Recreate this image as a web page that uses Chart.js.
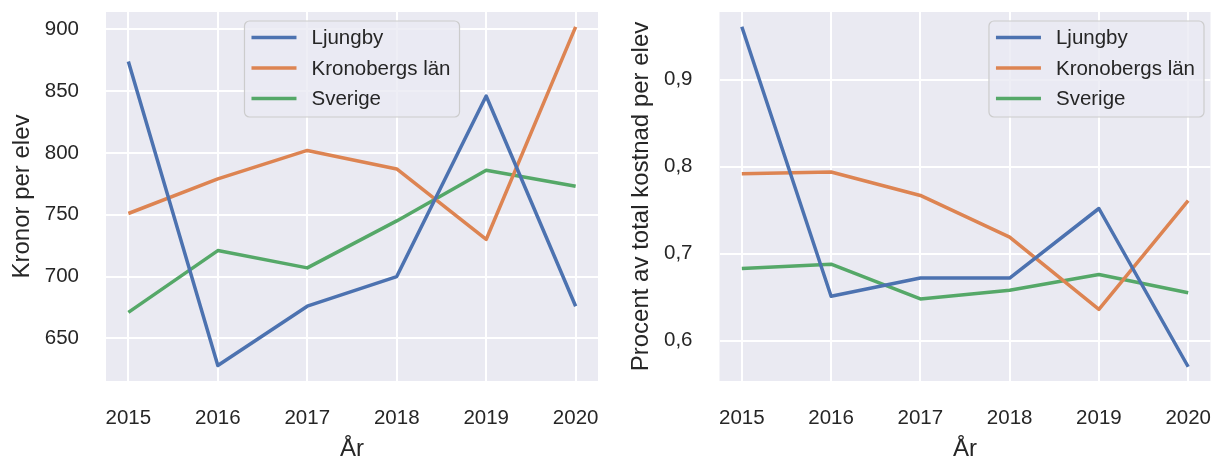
<!DOCTYPE html>
<html>
<head>
<meta charset="utf-8">
<script src="https://cdn.jsdelivr.net/npm/chart.js@4.4.1/dist/chart.umd.min.js"></script>
<style>
  body { margin: 0; background: #ffffff; }
  #wrap { position: relative; width: 1217px; height: 459px; }
  canvas { position: absolute; top: 0; }
</style>
</head>
<body>
<div id="wrap">
  <canvas id="kronorChart" width="608" height="459" style="left:0"></canvas>
  <canvas id="procentChart" width="609" height="459" style="left:608px"></canvas>
</div>
<script>
// Data
const years = [2015, 2016, 2017, 2018, 2019, 2020];
const seriesNames = ['Ljungby', 'Kronobergs län', 'Sverige'];

// Kronor per elev
const kronorLjungby = [874, 628, 676, 700, 846, 676];
const kronorKronoberg = [751, 779, 802, 787, 730, 902];
const kronorSverige = [671, 721, 707, 745, 786, 773];
const kronorTicks = [650, 700, 750, 800, 850, 900];

// Procent av total kostnad per elev
const procentLjungby = [0.961, 0.651, 0.672, 0.672, 0.752, 0.570];
const procentKronoberg = [0.792, 0.794, 0.767, 0.719, 0.636, 0.761];
const procentSverige = [0.683, 0.688, 0.648, 0.658, 0.676, 0.655];
const procentTicks = [0.6, 0.7, 0.8, 0.9];

// seaborn "deep" palette
const lineColors = ['#4c72b0', '#dd8452', '#55a868'];
const textColor = '#262626';
const fontFamily = '"Liberation Sans", Arial, sans-serif';

Chart.defaults.font.family = fontFamily;
Chart.defaults.color = textColor;

// Grey plot area like seaborn darkgrid
const plotBackground = {
    id: 'plotBackground',
    beforeDraw(chart) {
        const { ctx, chartArea: a } = chart;
        ctx.save();
        ctx.fillStyle = '#eaeaf2';
        ctx.fillRect(a.left, a.top, a.right - a.left, a.bottom - a.top);
        ctx.restore();
    }
};

// Legend drawn inside the plot area, with a framed box
function boxLegend(loc) {
    return {
        id: 'boxLegend',
        afterDraw(chart) {
            const { ctx, chartArea: a } = chart;
            const sets = chart.data.datasets;
            ctx.save();
            ctx.font = '20.5px ' + fontFamily;
            const textW = Math.max(...sets.map(d => ctx.measureText(d.label).width));
            const w = 67 + textW + 9;
            const h = 96;
            const left = loc === 'right' ? a.right - 6.5 - w : (a.left + a.right) / 2 - w / 2;
            const top = a.top + 9;

            ctx.beginPath();
            ctx.roundRect(left, top, w, h, 5);
            ctx.fillStyle = 'rgba(234, 234, 242, 0.8)';
            ctx.fill();
            ctx.strokeStyle = '#cccccc';
            ctx.lineWidth = 1.2;
            ctx.stroke();

            sets.forEach((d, i) => {
                const y = top + 16.5 + i * 30.5;
                ctx.beginPath();
                ctx.moveTo(left + 7, y);
                ctx.lineTo(left + 52, y);
                ctx.strokeStyle = d.borderColor;
                ctx.lineWidth = 3.5;
                ctx.stroke();
                ctx.fillStyle = textColor;
                ctx.textBaseline = 'middle';
                ctx.fillText(d.label, left + 67, y + 1);
            });
            ctx.restore();
        }
    };
}

function buildDatasets(seriesValues) {
    return seriesValues.map((vals, i) => ({
        label: seriesNames[i],
        data: years.map((yr, j) => ({ x: yr, y: vals[j] })),
        borderColor: lineColors[i],
        backgroundColor: lineColors[i],
        borderWidth: 3.5,
        borderJoinStyle: 'round',
        pointRadius: 0,
        tension: 0,
        fill: false
    }));
}

function makeChart(canvasId, cfg) {
    return new Chart(document.getElementById(canvasId), {
        type: 'line',
        data: { datasets: buildDatasets(cfg.series) },
        options: {
            responsive: false,
            animation: false,
            events: [],
            layout: { padding: { left: 0, right: cfg.padRight, top: 12, bottom: 0 } },
            plugins: {
                legend: { display: false },
                tooltip: { enabled: false }
            },
            scales: {
                x: {
                    type: 'linear',
                    min: 2014.75,
                    max: 2020.25,
                    afterBuildTicks: s => { s.ticks = years.map(v => ({ value: v })); },
                    afterFit: s => {
                        s.height = 78;
                        s.paddingLeft = 0;
                        s.paddingRight = 0;
                    },
                    grid: { color: '#ffffff', lineWidth: 2, drawTicks: false },
                    border: { display: false },
                    ticks: {
                        padding: 25,
                        maxRotation: 0,
                        autoSkip: false,
                        color: textColor,
                        font: { size: 20.5 },
                        callback: v => String(v)
                    },
                    title: {
                        display: true,
                        text: 'År',
                        color: textColor,
                        font: { size: 24, lineHeight: 0.8 },
                        padding: 0
                    }
                },
                y: {
                    min: cfg.yMin,
                    max: cfg.yMax,
                    afterBuildTicks: s => { s.ticks = cfg.ticks.map(v => ({ value: v })); },
                    afterFit: s => {
                        s.width = cfg.yWidth;
                        s.paddingTop = 0;
                        s.paddingBottom = 0;
                    },
                    grid: { color: '#ffffff', lineWidth: 2, drawTicks: false },
                    border: { display: false },
                    ticks: {
                        padding: 27,
                        color: textColor,
                        font: { size: 20.5 },
                        callback: cfg.format
                    },
                    title: {
                        display: true,
                        text: cfg.yTitle,
                        color: textColor,
                        font: { size: 24 },
                        padding: { top: cfg.titlePad, bottom: 0 }
                    }
                }
            }
        },
        plugins: [plotBackground, boxLegend(cfg.legendLoc)]
    });
}

makeChart('kronorChart', {
    series: [kronorLjungby, kronorKronoberg, kronorSverige],
    ticks: kronorTicks,
    yMin: 615.5,
    yMax: 914,
    yWidth: 106,
    padRight: 10,
    titlePad: 8,
    yTitle: 'Kronor per elev',
    legendLoc: 'center',
    format: v => String(v)
});

makeChart('procentChart', {
    series: [procentLjungby, procentKronoberg, procentSverige],
    ticks: procentTicks,
    yMin: 0.5536,
    yMax: 0.978,
    yWidth: 111.5,
    padRight: 6.5,
    titlePad: 18.5,
    yTitle: 'Procent av total kostnad per elev',
    legendLoc: 'right',
    format: v => v.toFixed(1).replace('.', ',')
});
</script>
</body>
</html>
